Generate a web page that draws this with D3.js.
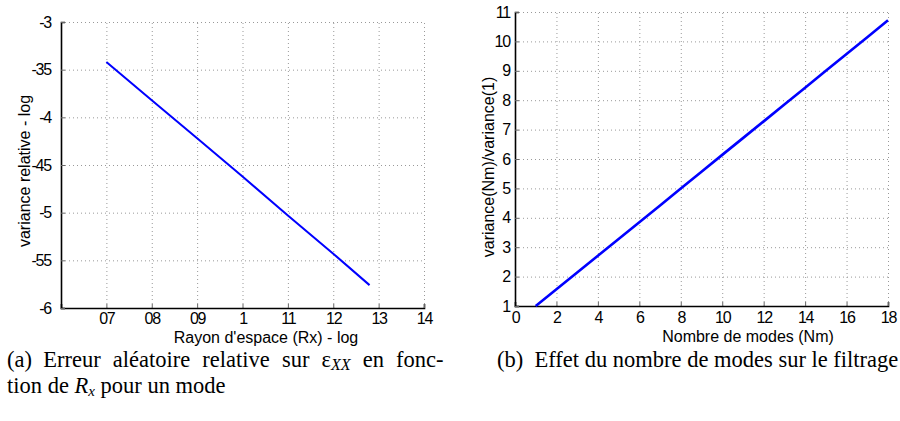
<!DOCTYPE html>
<html>
<head>
<meta charset="utf-8">
<script src="https://cdnjs.cloudflare.com/ajax/libs/d3/7.8.5/d3.min.js"></script>
<style>
  body { margin: 0; background: #fff; }
  svg { display: block; }
  .tick text { font-family: "Liberation Sans", Arial, sans-serif; font-size: 16px; letter-spacing: -1.2px; fill: #000; }
  .lab { font-family: "Liberation Sans", Arial, sans-serif; font-size: 16px; fill: #000; }
  .cap { font-family: "Liberation Serif", "Times New Roman", serif; font-size: 22.5px; fill: #000; }
</style>
</head>
<body>
<div class="chart"></div>
<script>
// panel (a): relative variance vs space radius (log)
var rxValues = [0.7, 0.8, 0.9, 1.0, 1.1, 1.2, 1.28];
var varRelValues = [-3.42, -3.82, -4.22, -4.62, -5.03, -5.43, -5.76];
var rxTicks = [0.7, 0.8, 0.9, 1.0, 1.1, 1.2, 1.3, 1.4];
var rxTickLabels = ["07", "08", "09", "1", "11", "12", "13", "14"];
var varTicks = [-6, -5.5, -5, -4.5, -4, -3.5, -3];
var varTickLabels = ["-6", "-55", "-5", "-45", "-4", "-35", "-3"];

// panel (b): variance ratio vs number of modes
var nmValues = [1, 2, 3, 4, 5, 6, 7, 8, 9, 10, 11, 12, 13, 14, 15, 16, 17, 18];
var ratioValues = [1, 1.57, 2.14, 2.71, 3.28, 3.85, 4.42, 5.0, 5.57, 6.14, 6.71, 7.28, 7.85, 8.42, 9.0, 9.57, 10.14, 10.72];
var nmTicks = [0, 2, 4, 6, 8, 10, 12, 14, 16, 18];
var ratioTicks = [1, 2, 3, 4, 5, 6, 7, 8, 9, 10, 11];

var svg = d3.select(".chart").append("svg")
    .attr("width", 900)
    .attr("height", 421);

var drawPanel = function (p) {
    var x = d3.scaleLinear().domain(p.xDomain).range([p.left, p.right]);
    var y = d3.scaleLinear().domain(p.yDomain).range([p.bottom, p.top]);
    var g = svg.append("g");

    // dotted grid
    g.append("g")
        .attr("transform", "translate(0," + p.bottom + ")")
        .call(d3.axisBottom(x).tickValues(p.xTicks).tickSize(-(p.bottom - p.top)).tickFormat(""))
        .call(function (s) { s.select(".domain").remove(); })
        .selectAll("line").attr("stroke", "#999").attr("stroke-dasharray", "1,3");
    g.append("g")
        .attr("transform", "translate(" + p.left + ",0)")
        .call(d3.axisLeft(y).tickValues(p.yTicks).tickSize(-(p.right - p.left)).tickFormat(""))
        .call(function (s) { s.select(".domain").remove(); })
        .selectAll("line").attr("stroke", "#999").attr("stroke-dasharray", "1,3");

    // axes
    var xa = g.append("g")
        .attr("transform", "translate(0," + p.bottom + ")")
        .call(d3.axisBottom(x).tickValues(p.xTicks).tickSize(-4).tickPadding(p.xPad)
            .tickFormat(function (d, i) { return p.xLabels[i]; }));
    var ya = g.append("g")
        .attr("transform", "translate(" + p.left + ",0)")
        .call(d3.axisLeft(y).tickValues(p.yTicks).tickSize(-4).tickPadding(p.yPad)
            .tickFormat(function (d, i) { return p.yLabels[i]; }));
    [xa, ya].forEach(function (a) {
        a.select(".domain").attr("stroke", "#000").attr("stroke-width", 1.6);
        a.selectAll(".tick line").attr("stroke", "#666");
    });

    // series
    var line = d3.line()
        .x(function (d, i) { return x(p.xs[i]); })
        .y(function (d) { return y(d); });
    g.append("path")
        .datum(p.ys)
        .attr("fill", "none")
        .attr("stroke", "#0000ff")
        .attr("stroke-width", p.lineWidth)
        .attr("d", line);

    // axis titles
    g.append("text").attr("class", "lab")
        .attr("x", p.xTitleX).attr("y", p.xTitleY)
        .attr("text-anchor", "middle")
        .text(p.xTitle);
    g.append("text").attr("class", "lab")
        .attr("transform", "translate(" + p.yTitleX + "," + p.yTitleY + ") rotate(-90)")
        .attr("text-anchor", "middle")
        .text(p.yTitle);
};

drawPanel({
    xDomain: [0.6, 1.4], yDomain: [-6, -3],
    left: 61, right: 424, top: 22, bottom: 308,
    xTicks: rxTicks, xLabels: rxTickLabels, xPad: 5,
    yTicks: varTicks, yLabels: varTickLabels, yPad: 10,
    xs: rxValues, ys: varRelValues, lineWidth: 2,
    xTitle: "Rayon d'espace (Rx) - log", xTitleX: 266, xTitleY: 343,
    yTitle: "variance relative - log", yTitleX: 30, yTitleY: 171
});

drawPanel({
    xDomain: [0, 18], yDomain: [1, 11],
    left: 515, right: 888, top: 12, bottom: 306,
    xTicks: nmTicks, xLabels: nmTicks.map(String), xPad: 6,
    yTicks: ratioTicks, yLabels: ratioTicks.map(String), yPad: 5,
    xs: nmValues, ys: ratioValues, lineWidth: 2.6,
    xTitle: "Nombre de modes (Nm)", xTitleX: 748, xTitleY: 342,
    yTitle: "variance(Nm)/variance(1)", yTitleX: 494, yTitleY: 167
});

// captions
var c1 = svg.append("text").attr("class", "cap").attr("x", 7).attr("y", 367)
    .attr("word-spacing", "6.5px");
c1.append("tspan").text("(a)\u2002Erreur aléatoire relative sur ε");
c1.append("tspan").attr("font-style", "italic").attr("font-size", "16px").attr("dy", 3).text("XX");
c1.append("tspan").attr("dy", -3).text(" en fonc-");
var c2 = svg.append("text").attr("class", "cap").attr("x", 7).attr("y", 393);
c2.append("tspan").text("tion de ");
c2.append("tspan").attr("font-style", "italic").text("R");
c2.append("tspan").attr("font-style", "italic").attr("font-size", "15px").attr("dy", 3).text("x");
c2.append("tspan").attr("dy", -3).text(" pour un mode");
svg.append("text").attr("class", "cap").attr("x", 497).attr("y", 367)
    .text("(b)\u2002Effet du nombre de modes sur le filtrage");
</script>
</body>
</html>
